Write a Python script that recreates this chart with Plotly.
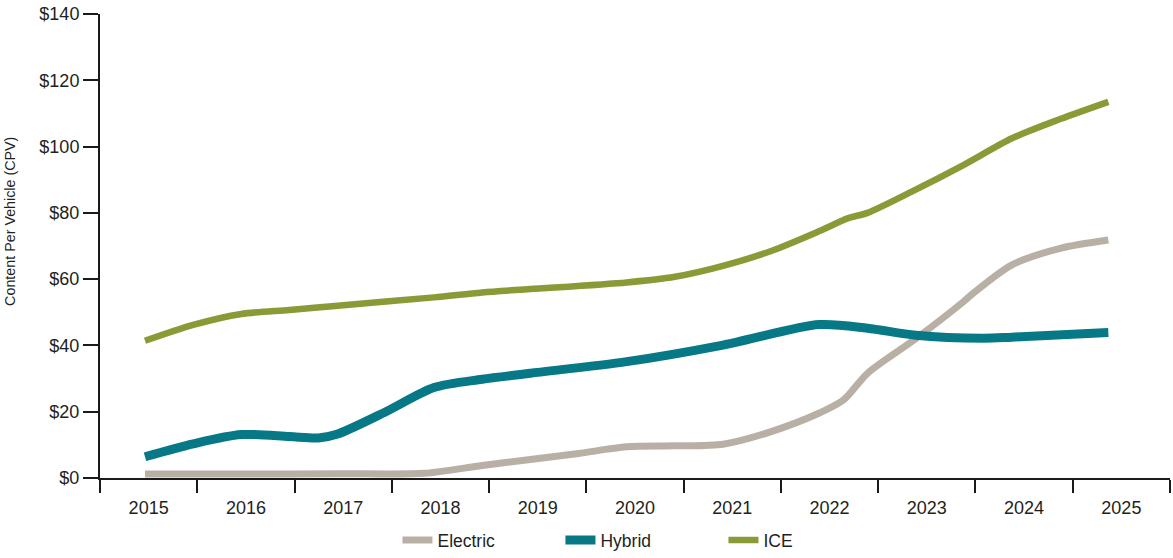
import plotly.graph_objects as go

# ---- data ----
year_labels = ["2015", "2016", "2017", "2018", "2019", "2020",
               "2021", "2022", "2023", "2024", "2025"]
label_pos = [2015, 2016, 2017, 2018, 2019, 2020, 2021, 2022, 2023, 2024, 2025]

ice_x = [2015, 2015.5, 2016, 2016.5, 2017, 2018, 2018.5, 2019, 2020, 2020.5,
         2021, 2021.5, 2022, 2022.3, 2022.5, 2023, 2023.5, 2024, 2024.5, 2025]
ice_y = [41.4, 46.2, 49.5, 50.7, 52.0, 54.5, 56.0, 57.0, 59.0, 60.7,
         64.0, 68.5, 74.5, 78.4, 80.0, 87.0, 94.5, 102.5, 108.3, 113.5]

hyb_x = [2015, 2015.5, 2016, 2016.5, 2016.8, 2017, 2017.5, 2018, 2018.5, 2019,
         2020, 2021, 2022, 2022.5, 2023, 2023.7, 2024, 2025]
hyb_y = [6.4, 10.3, 13.1, 12.5, 12.1, 13.3, 20.0, 27.3, 29.8, 31.6,
         35.1, 40.1, 46.3, 45.2, 43.1, 42.2, 42.5, 43.9]

ele_x = [2015, 2016, 2017, 2017.9, 2018.5, 2019, 2019.5, 2020, 2020.5, 2021,
         2021.5, 2022, 2022.25, 2022.5, 2023, 2023.5, 2023.6, 2024, 2024.5, 2025]
ele_y = [1.2, 1.2, 1.3, 1.4, 3.8, 5.6, 7.4, 9.4, 9.7, 10.2,
         14.0, 19.6, 23.5, 31.6, 42.0, 53.3, 55.8, 64.3, 69.3, 71.8]

y_ticks = [0, 20, 40, 60, 80, 100, 120, 140]
y_labels = ["$0", "$20", "$40", "$60", "$80", "$100", "$120", "$140"]

# ---- styles ----
C_ELE = "#B9B0A5"
C_HYB = "#067886"
C_ICE = "#8A9A37"
TXT = "#231F20"
AX = "#1a1a1a"
FONT = "Liberation Sans, Arial, sans-serif"

fig = go.Figure()
fig.add_trace(go.Scatter(x=ele_x, y=ele_y, name="Electric", mode="lines",
                         line=dict(color=C_ELE, width=7, shape="spline", smoothing=0.8)))
fig.add_trace(go.Scatter(x=hyb_x, y=hyb_y, name="Hybrid", mode="lines",
                         line=dict(color=C_HYB, width=9, shape="spline", smoothing=0.8)))
fig.add_trace(go.Scatter(x=ice_x, y=ice_y, name="ICE", mode="lines",
                         line=dict(color=C_ICE, width=6.5, shape="spline", smoothing=0.8)))
# empty carrier so the category-label axis gets drawn
fig.add_trace(go.Scatter(x=label_pos, y=[None] * len(label_pos), xaxis="x2",
                         mode="lines", showlegend=False, hoverinfo="skip"))

fig.update_layout(
    width=1173, height=558,
    margin=dict(l=100, r=3, t=14, b=80),
    paper_bgcolor="white", plot_bgcolor="white",
    font=dict(family=FONT, color=TXT, size=18),
    showlegend=True,
    legend=dict(orientation="h", x=0.278, xanchor="left",
                yref="container", y=-0.008, yanchor="bottom",
                font=dict(family=FONT, size=17.5, color=TXT),
                entrywidth=118, entrywidthmode="pixels",
                bgcolor="rgba(0,0,0,0)"),
    # data axis (hidden)
    xaxis=dict(range=[2014.533, 2025.64], visible=False, automargin=False,
               fixedrange=True),
    # label axis with ticks between the years
    xaxis2=dict(
        range=[2014.5, 2025.5], overlaying="x", side="bottom", anchor="y",
        tickmode="array", tickvals=label_pos, ticktext=year_labels,
        ticks="outside", ticklen=12, tickcolor="rgba(0,0,0,0)",
        showgrid=False, zeroline=False, automargin=False,
        showline=True, linecolor=AX, linewidth=2,
        tickfont=dict(family=FONT, size=18, color=TXT),
        minor=dict(tick0=2014.5, dtick=1, ticks="outside", ticklen=13,
                   tickwidth=1.5, tickcolor=AX, showgrid=False),
    ),
    yaxis=dict(
        range=[0, 140], tickmode="array", tickvals=y_ticks, ticktext=y_labels,
        ticks="outside", ticklen=15, tickwidth=1.5,
        tickcolor=AX, showgrid=False, zeroline=False, automargin=False,
        showline=True, linecolor=AX, linewidth=2,
        tickfont=dict(family=FONT, size=18, color=TXT),
    ),
    annotations=[dict(text="Content Per Vehicle (CPV)", textangle=-90,
                      xref="paper", yref="paper", x=-0.0841, y=0.552,
                      xanchor="center", yanchor="middle", showarrow=False,
                      font=dict(family=FONT, size=14.3, color=TXT))],
)

# remove the page's default body margin so the figure sits at the window origin
fig.write_html("out.html",
               config={"displayModeBar": False},
               post_script="document.body.style.margin='0';"
                           "document.body.style.overflow='hidden';")
